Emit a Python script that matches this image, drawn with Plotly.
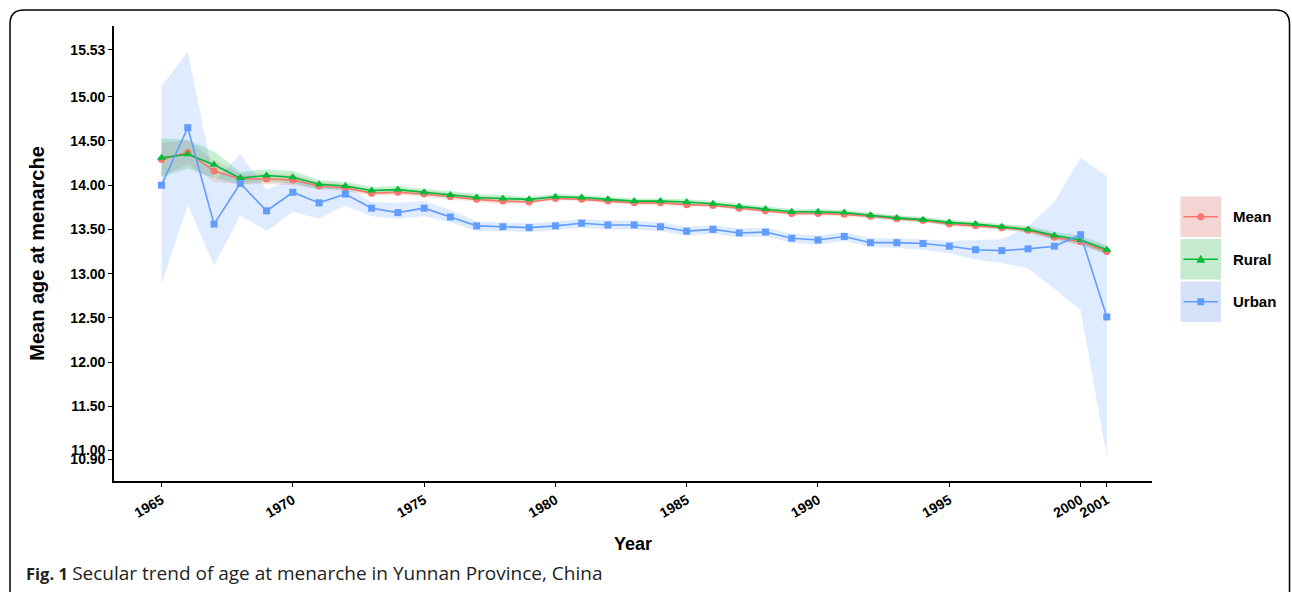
import plotly.graph_objects as go

years = list(range(1965, 2002))

mean_vals = [14.29, 14.37, 14.16, 14.07, 14.07, 14.06, 13.99, 13.97, 13.91, 13.92,
             13.90, 13.87, 13.84, 13.82, 13.81, 13.85, 13.84, 13.82, 13.80, 13.80,
             13.78, 13.77, 13.74, 13.71, 13.68, 13.68, 13.67, 13.65, 13.62, 13.60,
             13.56, 13.54, 13.52, 13.49, 13.41, 13.36, 13.25]
mean_hi = [14.48, 14.51, 14.28, 14.13, 14.13, 14.12, 14.04, 14.01, 13.95, 13.96,
           13.94, 13.91, 13.88, 13.86, 13.84, 13.88, 13.87, 13.85, 13.83, 13.83,
           13.81, 13.80, 13.77, 13.74, 13.71, 13.71, 13.70, 13.68, 13.65, 13.63,
           13.59, 13.57, 13.55, 13.52, 13.45, 13.40, 13.30]
mean_lo = [14.10, 14.23, 14.04, 14.01, 14.01, 14.00, 13.95, 13.93, 13.88, 13.89,
           13.87, 13.84, 13.81, 13.79, 13.79, 13.83, 13.82, 13.80, 13.78, 13.78,
           13.76, 13.75, 13.72, 13.69, 13.66, 13.66, 13.65, 13.63, 13.60, 13.58,
           13.54, 13.52, 13.50, 13.46, 13.38, 13.32, 13.21]

rural_vals = [14.31, 14.35, 14.23, 14.08, 14.11, 14.09, 14.01, 13.99, 13.94, 13.95,
              13.92, 13.89, 13.86, 13.85, 13.84, 13.87, 13.86, 13.84, 13.82, 13.82,
              13.81, 13.79, 13.76, 13.73, 13.70, 13.70, 13.69, 13.66, 13.63, 13.61,
              13.58, 13.56, 13.53, 13.50, 13.43, 13.38, 13.27]
rural_hi = [14.53, 14.51, 14.38, 14.15, 14.18, 14.16, 14.06, 14.04, 13.98, 13.99,
            13.96, 13.93, 13.90, 13.89, 13.87, 13.90, 13.89, 13.87, 13.85, 13.85,
            13.84, 13.82, 13.79, 13.76, 13.73, 13.73, 13.72, 13.69, 13.66, 13.64,
            13.61, 13.59, 13.56, 13.54, 13.47, 13.43, 13.32]
rural_lo = [14.09, 14.19, 14.08, 14.01, 14.04, 14.02, 13.96, 13.95, 13.90, 13.91,
            13.88, 13.86, 13.83, 13.82, 13.81, 13.84, 13.83, 13.81, 13.79, 13.79,
            13.78, 13.76, 13.73, 13.70, 13.67, 13.67, 13.66, 13.63, 13.60, 13.58,
            13.55, 13.53, 13.50, 13.47, 13.39, 13.33, 13.22]

urban_vals = [14.00, 14.65, 13.56, 14.02, 13.71, 13.92, 13.80, 13.90, 13.74, 13.69,
              13.74, 13.64, 13.54, 13.53, 13.52, 13.54, 13.57, 13.55, 13.55, 13.53,
              13.48, 13.50, 13.46, 13.47, 13.40, 13.38, 13.42, 13.35, 13.35, 13.34,
              13.31, 13.27, 13.26, 13.28, 13.31, 13.44, 12.51]
urban_hi = [15.12, 15.51, 14.05, 14.35, 13.95, 14.07, 13.99, 14.00, 13.81, 13.80,
            13.82, 13.72, 13.59, 13.58, 13.57, 13.59, 13.62, 13.60, 13.60, 13.58,
            13.53, 13.55, 13.51, 13.52, 13.45, 13.43, 13.47, 13.40, 13.40, 13.39,
            13.37, 13.38, 13.39, 13.53, 13.81, 14.31, 14.10]
urban_lo = [12.88, 13.78, 13.09, 13.66, 13.48, 13.70, 13.62, 13.77, 13.65, 13.62,
            13.65, 13.58, 13.48, 13.48, 13.47, 13.49, 13.52, 13.50, 13.50, 13.48,
            13.43, 13.45, 13.41, 13.42, 13.35, 13.33, 13.37, 13.30, 13.29, 13.27,
            13.23, 13.16, 13.12, 13.06, 12.83, 12.59, 10.93]

y_tickvals = [10.90, 11.00, 11.50, 12.00, 12.50, 13.00, 13.50, 14.00, 14.50, 15.00, 15.53]
y_ticktext = ["10.90", "11.00", "11.50", "12.00", "12.50", "13.00", "13.50", "14.00", "14.50", "15.00", "15.53"]
x_tickvals = [1965, 1970, 1975, 1980, 1985, 1990, 1995, 2000, 2001]

series_names = ["Mean", "Rural", "Urban"]
line_colors = ["#F8766D", "#00BA38", "#619CFF"]
band_colors = ["rgba(248,118,109,0.22)", "rgba(0,186,56,0.22)", "rgba(97,156,255,0.2)"]
key_colors = ["#f4d5d3", "#c5eacd", "#d5e1f6"]
symbols = ["circle", "triangle-up", "square"]

W, H = 1292, 592
L, R, T, B = 114, 140, 26, 111
PW, PH = W - L - R, H - T - B

def px(xp):
    return (xp - L) / PW

def py(yp):
    return (H - B - yp) / PH

fig = go.Figure()

data = [(mean_vals, mean_hi, mean_lo), (rural_vals, rural_hi, rural_lo), (urban_vals, urban_hi, urban_lo)]

# ribbons first
for (vals, hi, lo), name, bc in zip(data, series_names, band_colors):
    fig.add_trace(go.Scatter(
        x=years + years[::-1], y=hi + lo[::-1], fill="toself", fillcolor=bc,
        line=dict(width=0), mode="lines", hoverinfo="skip", showlegend=False))

# lines + markers
for (vals, hi, lo), name, lc, sym in zip(data, series_names, line_colors, symbols):
    fig.add_trace(go.Scatter(
        x=years, y=vals, mode="lines+markers", name=name,
        line=dict(color=lc, width=1.6),
        marker=dict(symbol=sym, size=7 if sym != "triangle-up" else 8, color=lc),
        showlegend=False))

font_fam = "Arial, Liberation Sans, sans-serif"

fig.update_layout(
    width=W, height=H,
    margin=dict(l=L, r=R, t=T, b=B),
    plot_bgcolor="white", paper_bgcolor="white",
    xaxis=dict(
        range=[1963.19, 2002.72], tickvals=x_tickvals, tickangle=-30,
        showgrid=False, zeroline=False, showline=True, linecolor="black", linewidth=1.6,
        ticks="outside", ticklen=4, tickcolor="black", tickwidth=1,
        tickfont=dict(family=font_fam, size=14, color="black", weight="bold"),
        title=dict(text="Year", font=dict(family=font_fam, size=18, color="black", weight="bold"), standoff=18),
    ),
    yaxis=dict(
        range=[10.655, 15.80], tickvals=y_tickvals, ticktext=y_ticktext,
        showgrid=False, zeroline=False, showline=True, linecolor="black", linewidth=1.6,
        ticks="outside", ticklen=4, tickcolor="black", tickwidth=1,
        tickfont=dict(family=font_fam, size=14, color="black", weight="bold"),
        title=dict(text="Mean age at menarche", font=dict(family=font_fam, size=20, color="black", weight="bold"), standoff=20),
    ),
    showlegend=False,
)

shapes = []
# outer rounded frame
fx0, fx1, fy0, r = 10, 1289.5, 10, 14
path = (f"M {px(fx0)},{py(640)} L {px(fx0)},{py(fy0 + r)} "
        f"Q {px(fx0)},{py(fy0)} {px(fx0 + r)},{py(fy0)} "
        f"L {px(fx1 - r)},{py(fy0)} Q {px(fx1)},{py(fy0)} {px(fx1)},{py(fy0 + r)} "
        f"L {px(fx1)},{py(640)}")
shapes.append(dict(type="path", xref="paper", yref="paper", path=path,
                   line=dict(color="black", width=1.5)))

# manual legend
key_tops = [196.5, 239, 281.5]
key_h = 40.5
kx0, kx1 = 1180.5, 1221
annotations = []
for top, name, kc, lc, sym in zip(key_tops, series_names, key_colors, line_colors, symbols):
    shapes.append(dict(type="rect", xref="paper", yref="paper",
                       x0=px(kx0), x1=px(kx1), y0=py(top + key_h), y1=py(top),
                       fillcolor=kc, line=dict(width=0), layer="above"))
    cy = top + key_h / 2
    cx = (kx0 + kx1) / 2
    shapes.append(dict(type="line", xref="paper", yref="paper",
                       x0=px(1183.5), x1=px(1218), y0=py(cy), y1=py(cy),
                       line=dict(color=lc, width=1.6), layer="above"))
    if sym == "circle":
        shapes.append(dict(type="circle", xref="paper", yref="paper",
                           x0=px(cx - 3.5), x1=px(cx + 3.5), y0=py(cy + 3.5), y1=py(cy - 3.5),
                           fillcolor=lc, line=dict(width=0), layer="above"))
    elif sym == "square":
        shapes.append(dict(type="rect", xref="paper", yref="paper",
                           x0=px(cx - 3.5), x1=px(cx + 3.5), y0=py(cy + 3.5), y1=py(cy - 3.5),
                           fillcolor=lc, line=dict(width=0), layer="above"))
    else:
        tp = (f"M {px(cx - 4.5)},{py(cy + 3.5)} L {px(cx + 4.5)},{py(cy + 3.5)} "
              f"L {px(cx)},{py(cy - 4.5)} Z")
        shapes.append(dict(type="path", xref="paper", yref="paper", path=tp,
                           fillcolor=lc, line=dict(width=0), layer="above"))
    annotations.append(dict(xref="paper", yref="paper", x=px(1231), y=py(cy),
                            xanchor="left", yanchor="middle", showarrow=False,
                            text=name, font=dict(family=font_fam, size=15, color="black", weight="bold")))

annotations.append(dict(xref="paper", yref="paper", x=px(24), y=py(573),
                        xanchor="left", yanchor="middle", showarrow=False,
                        text=("<b>Fig. 1</b> <span style=\"font-size:19px\">"
                              "Secular trend of age at menarche in Yunnan Province, China</span>"),
                        font=dict(family="Open Sans, sans-serif", size=16.5, color="#222222")))

fig.update_layout(shapes=shapes, annotations=annotations)

fig.write_html(
    "out.html",
    config={"displayModeBar": False},
    post_script="document.body.style.margin='0';document.documentElement.style.overflow='hidden';document.body.style.overflow='hidden';",
)
